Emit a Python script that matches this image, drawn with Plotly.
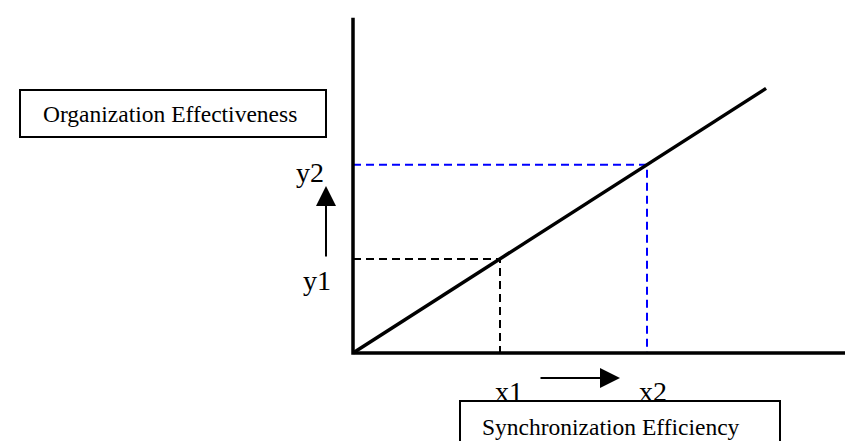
import plotly.graph_objects as go

# relation line (chart units)
line_x = [0, 8.43]
line_y = [0, 5.4]

# marked points on the line
mark_x = [3.0, 6.0]      # x1, x2
mark_y = [1.92, 3.84]    # y1, y2
mark_colors = ["#000000", "#0000FF"]

x_labels = ["x1", "x2"]
y_labels = ["y1", "y2"]
x_title = "Synchronization Efficiency"
y_title = "Organization Effectiveness"

# axis extents (chart units)
axis_top = 6.84
axis_right = 10.5

W, H = 853, 441
UNIT = 49.0          # pixels per chart unit
OX, OY = 345, 345    # origin in pixels

FONT = "Liberation Serif, Times New Roman, serif"


def px(x):
    return x / W


def py(y):
    return 1 - y / H


fig = go.Figure()

# dashed guides from the axes to the line
for xv, yv, col in zip(mark_x, mark_y, mark_colors):
    fig.add_trace(go.Scatter(
        x=[0, xv, xv], y=[yv, yv, 0],
        mode="lines",
        line=dict(color=col, width=2, dash="8px,5px"),
        hoverinfo="skip"
    ))

# main relation line
fig.add_trace(go.Scatter(
    x=line_x, y=line_y,
    mode="lines",
    line=dict(color="black", width=3.5),
    hoverinfo="skip"
))

# axes
fig.add_trace(go.Scatter(
    x=[0, 0, axis_right], y=[axis_top, 0, 0],
    mode="lines",
    line=dict(color="black", width=3.5),
    hoverinfo="skip"
))

annotations = []

# x1 / x2 and y1 / y2 labels
lab = dict(showarrow=False, xref="paper", yref="paper",
           font=dict(family=FONT, size=28, color="black"),
           xanchor="center", yanchor="middle")
annotations.append(dict(text=x_labels[0], x=px(501), y=py(383), **lab))
annotations.append(dict(text=x_labels[1], x=px(645), y=py(383), **lab))
annotations.append(dict(text=y_labels[1], x=px(302), y=py(164), **lab))
annotations.append(dict(text=y_labels[0], x=px(309), y=py(272), **lab))

# arrows
arr = dict(text="", showarrow=True, xref="paper", yref="paper",
           arrowhead=2, arrowsize=2, arrowwidth=2, arrowcolor="black",
           standoff=0, startstandoff=0)
annotations.append(dict(x=px(318), y=py(178), ax=0, ay=72, **arr))
annotations.append(dict(x=px(612), y=py(370), ax=-81, ay=0, **arr))

# boxed titles
box = dict(showarrow=False, xref="paper", yref="paper",
           font=dict(family=FONT, size=23.5, color="black"),
           xanchor="left", yanchor="middle")
annotations.append(dict(text=y_title, x=px(33), y=py(106), **box))
annotations.append(dict(text=x_title, x=px(472), y=py(418.5), **box))

shapes = [
    dict(type="rect", xref="paper", yref="paper",
         x0=px(12), x1=px(318), y0=py(82), y1=py(129),
         line=dict(color="black", width=2)),
    dict(type="rect", xref="paper", yref="paper",
         x0=px(452), x1=px(772), y0=py(393), y1=py(445),
         line=dict(color="black", width=2)),
]

fig.update_layout(
    width=W, height=H, autosize=False,
    margin=dict(l=0, r=0, t=0, b=0),
    paper_bgcolor="white", plot_bgcolor="white",
    showlegend=False,
    xaxis=dict(range=[-OX / UNIT, (W - OX) / UNIT], visible=False, fixedrange=True),
    yaxis=dict(range=[-(H - OY) / UNIT, OY / UNIT], visible=False, fixedrange=True),
    annotations=annotations,
    shapes=shapes
)

fig.write_html("out.html", config=dict(displayModeBar=False))
